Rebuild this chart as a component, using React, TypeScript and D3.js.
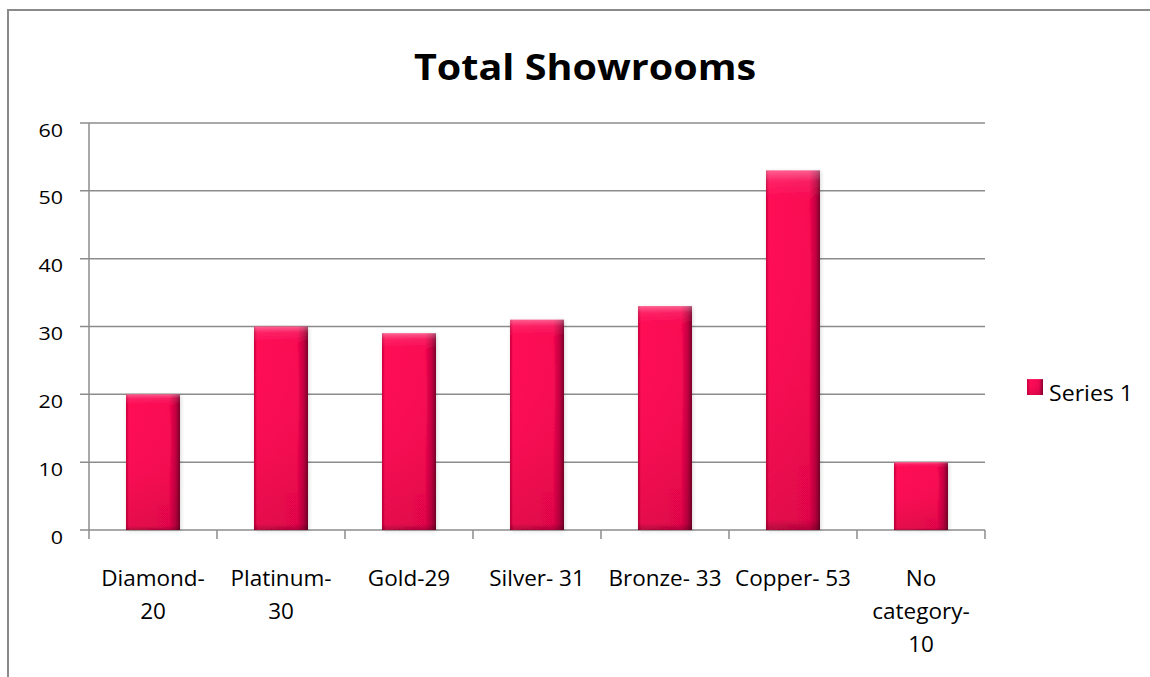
import React from "react";
import * as d3 from "d3";

const title = "Total Showrooms";
const categories: string[][] = [
  ["Diamond-", "20"],
  ["Platinum-", "30"],
  ["Gold-29"],
  ["Silver- 31"],
  ["Bronze- 33"],
  ["Copper- 53"],
  ["No", "category-", "10"],
];
const values: number[] = [20, 30, 29, 31, 33, 53, 10];
const yTicks: number[] = [0, 10, 20, 30, 40, 50, 60];
const seriesName = "Series 1";

const W = 1150;
const H = 677;
const plot = { left: 89, right: 985, top: 123, bottom: 530 };
const FONT = "'Open Sans', 'Liberation Sans', sans-serif";
const GRID = "#8c8c8c";

function SText(props: {
  x: number;
  y: number;
  sx: number;
  size: number;
  anchor?: string;
  bold?: boolean;
  children: React.ReactNode;
}) {
  return (
    <text
      transform={`translate(${props.x},${props.y}) scale(${props.sx},1)`}
      textAnchor={props.anchor || "start"}
      fontSize={props.size}
      fontWeight={props.bold ? "bold" : "normal"}
      fill="#000"
    >
      {props.children}
    </text>
  );
}

export default function App() {
  const x = d3
    .scaleBand<number>()
    .domain(categories.map((_, i) => i))
    .range([plot.left, plot.right])
    .paddingInner(0.578)
    .paddingOuter(0.289);
  const y = d3.scaleLinear().domain([0, 60]).range([plot.bottom, plot.top]);
  const step = x.step();
  const boundaries = d3.range(categories.length + 1).map((i) => plot.left + i * step);

  return (
    <svg
      width={W}
      height={H}
      style={{ position: "absolute", left: 0, top: 0, background: "#fff" }}
      fontFamily={FONT}
    >
      <defs>
        <linearGradient id="barH" x1="0" x2="1" y1="0" y2="0">
          <stop offset="0" stopColor="#c8003f" />
          <stop offset="0.06" stopColor="#ff0a55" />
          <stop offset="0.8" stopColor="#f80752" />
          <stop offset="0.92" stopColor="#c20040" />
          <stop offset="1" stopColor="#7a0028" />
        </linearGradient>
        <linearGradient id="barV" x1="0" x2="0" y1="0" y2="1">
          <stop offset="0" stopColor="#ffffff" stopOpacity="0.35" />
          <stop offset="0.03" stopColor="#ffffff" stopOpacity="0.1" />
          <stop offset="0.08" stopColor="#ffffff" stopOpacity="0" />
          <stop offset="0.6" stopColor="#000000" stopOpacity="0.03" />
          <stop offset="0.97" stopColor="#000000" stopOpacity="0.1" />
          <stop offset="1" stopColor="#000000" stopOpacity="0.3" />
        </linearGradient>
        <filter id="shadow" x="-20%" y="-10%" width="140%" height="120%">
          <feGaussianBlur in="SourceAlpha" stdDeviation="2" />
          <feOffset dx="1" dy="1" result="b" />
          <feComponentTransfer>
            <feFuncA type="linear" slope="0.15" />
          </feComponentTransfer>
          <feMerge>
            <feMergeNode />
            <feMergeNode in="SourceGraphic" />
          </feMerge>
        </filter>
        <linearGradient id="legH" x1="0" x2="1" y1="0" y2="0">
          <stop offset="0" stopColor="#c8003f" />
          <stop offset="0.2" stopColor="#ff0a55" />
          <stop offset="0.75" stopColor="#f00752" />
          <stop offset="1" stopColor="#8a0030" />
        </linearGradient>
      </defs>

      {/* outer border */}
      <rect x={8} y={10} width={1160} height={700} fill="none" stroke="#8a8a8a" strokeWidth={2} />

      {/* title */}
      <SText x={585} y={80} sx={1.13} size={35} anchor="middle" bold>
        {title}
      </SText>

      {/* gridlines */}
      {yTicks.map((t) => (
        <line
          key={"g" + t}
          x1={plot.left - 9}
          x2={plot.right}
          y1={y(t)}
          y2={y(t)}
          stroke={GRID}
          strokeWidth={1.5}
        />
      ))}
      {/* y axis */}
      <line x1={plot.left} x2={plot.left} y1={plot.top} y2={plot.bottom} stroke={GRID} strokeWidth={1.5} />
      {/* x ticks */}
      {boundaries.map((bx, i) => (
        <line key={"xt" + i} x1={bx} x2={bx} y1={plot.bottom} y2={plot.bottom + 9} stroke={GRID} strokeWidth={1.5} />
      ))}

      {/* y labels */}
      {yTicks.map((t) => (
        <SText key={"yl" + t} x={63} y={y(t) + 13.5} sx={1.13} size={19} anchor="end">
          {t}
        </SText>
      ))}

      {/* bars */}
      {values.map((v, i) => (
        <g key={"b" + i} filter="url(#shadow)">
          <rect x={x(i)} y={y(v)} width={x.bandwidth()} height={y(0) - y(v)} fill="url(#barH)" />
          <rect x={x(i)} y={y(v)} width={x.bandwidth()} height={y(0) - y(v)} fill="url(#barV)" />
        </g>
      ))}

      {/* category labels */}
      {categories.map((lines, i) => (
        <g key={"c" + i}>
          {lines.map((ln, j) => (
            <SText
              key={j}
              x={(x(i) as number) + x.bandwidth() / 2}
              y={586 + j * 33}
              sx={1.0}
              size={22.5}
              anchor="middle"
            >
              {ln}
            </SText>
          ))}
        </g>
      ))}

      {/* legend */}
      <rect x={1027} y={379} width={16} height={16} fill="url(#legH)" />
      <rect x={1027} y={379} width={16} height={16} fill="url(#barV)" />
      <SText x={1049} y={401} sx={1.05} size={22}>
        {seriesName}
      </SText>
    </svg>
  );
}
